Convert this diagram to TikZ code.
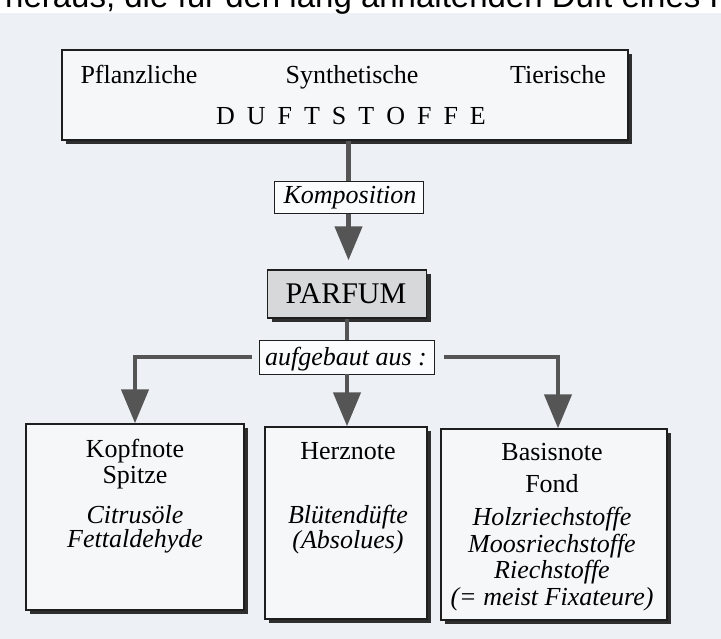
\documentclass[tikz,border=0pt]{standalone}
\usepackage{fontspec}
\setmainfont{Liberation Serif}
\newfontfamily\sansf{Liberation Sans}
\usetikzlibrary{arrows.meta,shadows}
\definecolor{bg}{HTML}{EDF0F4}
\definecolor{boxfill}{HTML}{F5F7F9}
\definecolor{parfill}{HTML}{D7D8D9}
\definecolor{arrcol}{HTML}{555555}
\definecolor{edge}{HTML}{1E1E1E}
\definecolor{shade}{HTML}{2E2E2E}
\tikzset{
  shbox/.style={draw=edge, line width=1.4pt, fill=boxfill, inner sep=0pt, rectangle,
    drop shadow={shadow xshift=4pt, shadow yshift=-4pt, opacity=1, fill=shade}},
  lblbox/.style={draw=edge, line width=0.8pt, fill=white!60!boxfill, inner sep=0pt, rectangle},
  txt/.style={anchor=base, inner sep=0pt, font=\fontsize{26}{30}\selectfont},
  itxt/.style={txt, font=\fontsize{26}{30}\selectfont\itshape},
  stem/.style={draw=arrcol, line width=4.5pt},
  arr/.style={stem, -{Triangle[length=34pt,width=27pt]}, arrcol}
}
\begin{document}
\begin{tikzpicture}[x=1pt,y=-1pt]
\useasboundingbox (0,0) rectangle (721,639);
\clip (0,0) rectangle (721,639);
\fill[white] (0,0) rectangle (721,13);
\fill[bg] (0,13) rectangle (721,639);
\node[anchor=base west, inner sep=0pt, font=\sansf\fontsize{33}{36}\selectfont] (top) at (5,8) {heraus, die für den lang anhaltenden Duft eines P};

% boxes
\node[shbox, minimum width=566pt, minimum height=90pt] (duft) at (345,95) {};
\node[shbox, fill=parfill, minimum width=159pt, minimum height=48pt] (parfum) at (347,294) {};
\node[shbox, minimum width=218pt, minimum height=186pt] (kopf) at (135,517) {};
\node[shbox, minimum width=162pt, minimum height=192pt] (herz) at (346,523) {};
\node[shbox, minimum width=226pt, minimum height=191pt] (basis) at (554,524.5) {};

% connectors
\coordinate (kompx) at (348.5,197);
\draw[stem] (kompx |- duft.south) -- (kompx);
\draw[arr, shorten >=9pt] (kompx) -- (kompx |- parfum.north);
\node[lblbox, minimum width=149pt, minimum height=32pt] (komp) at (kompx) {};
\node[lblbox, minimum width=175pt, minimum height=34pt] (aufg) at (347,357) {};
\draw[stem] (parfum.south) -- (aufg.north);
\draw[arr] (aufg.south) -- (aufg.south |- herz.north);
\draw[arr, shorten <=7pt] (aufg.west) -| (kopf.north);
\draw[arr, shorten <=9pt] (aufg.east) -| ([xshift=4pt]basis.north);

% texts
\node[txt] (pfl) at (139,84) {Pflanzliche};
\node[txt] (syn) at (352,84) {Synthetische};
\node[txt] (tie) at (558,84) {Tierische};
\node[txt] (dst) at (351,125) {D\hspace{12pt}U\hspace{12pt}F\hspace{12pt}T\hspace{12pt}S\hspace{12pt}T\hspace{12pt}O\hspace{12pt}F\hspace{12pt}F\hspace{12pt}E};
\node[itxt] (kompt) at (350,204) {Komposition};
\node[txt, font=\fontsize{30}{34}\selectfont] (part) at (346,304) {PARFUM};
\node[itxt] (aufgt) at (346,366) {aufgebaut aus :};

\node[txt] (k1) at (135,457) {Kopfnote};
\node[txt] (k2) at (135,483) {Spitze};
\node[itxt] (k3) at (135,523) {Citrusöle};
\node[itxt] (k4) at (135,547) {Fettaldehyde};

\node[txt] (h1) at (348,459) {Herznote};
\node[itxt] (h2) at (348,523) {Blütendüfte};
\node[itxt] (h3) at (348,548) {(Absolues)};

\node[txt] (b1) at (552,460) {Basisnote};
\node[txt] (b2) at (552,492) {Fond};
\node[itxt] (b3) at (552,525) {Holzriechstoffe};
\node[itxt] (b4) at (552,552) {Moosriechstoffe};
\node[itxt] (b5) at (552,578) {Riechstoffe};
\node[itxt] (b6) at (552,605) {(= meist Fixateure)};
\end{tikzpicture}
\end{document}
